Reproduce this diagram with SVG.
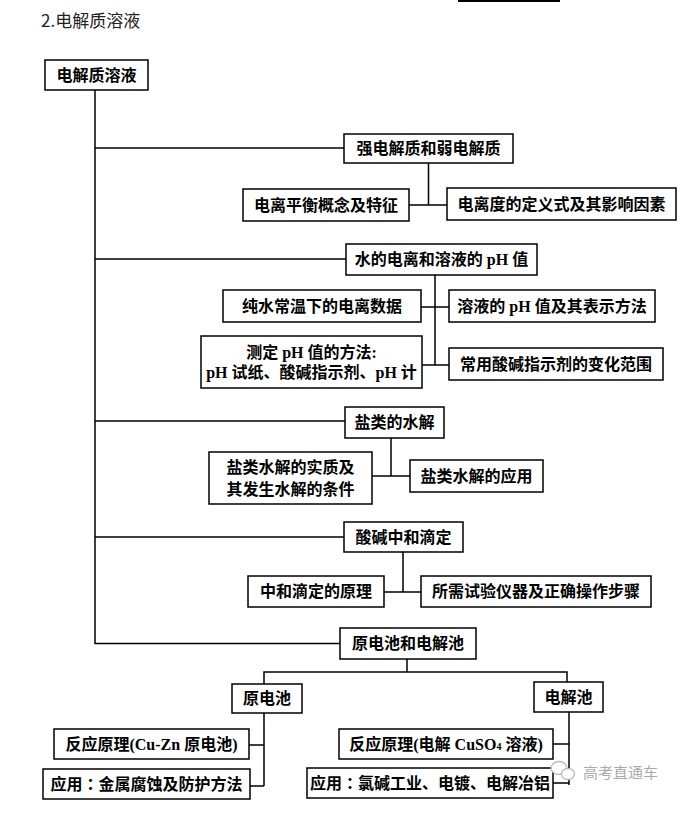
<svg xmlns="http://www.w3.org/2000/svg" width="700" height="816" viewBox="0 0 700 816">
<style>
.bx{fill:#fff;stroke:#000;stroke-width:1.5}
.t{font-family:"Liberation Serif","Noto Sans CJK SC",serif;font-weight:700;font-size:16px;text-anchor:middle;fill:#000}
.c{font-family:"Noto Sans CJK TC",sans-serif}
.ln{fill:none;stroke:#000;stroke-width:1.5}
.title{font-family:"Noto Sans CJK SC","Liberation Sans",sans-serif;font-size:17px;fill:#222}
.wm{font-family:"Noto Sans CJK SC",sans-serif;font-size:15px;fill:#aaa}
</style>
<rect width="700" height="816" fill="#fff"/>
<line x1="458" y1="1" x2="560" y2="1" stroke="#000" stroke-width="2"/>
<text class="title" x="41" y="27">2.电解质溶液</text>

<g id="connectors" class="ln">
<path d="M95,90 V643.5 H340"/>
<path d="M95,148 H344 M428.5,163 V205 M409,205 H447"/>
<path d="M95,259 H346 M435,275 V365 M421,307 H449 M422,365 H449"/>
<path d="M95,421 H345 M391,438 V476 M372,476 H410"/>
<path d="M95,537 H344 M403,552 V592 M384,592 H421"/>
<path d="M407,659 V672 M264,684 V672 H567 V682 M264,713 V786 M249,745 H264 M250,786 H264 M569,712 V785 M553,744 H569 M553,783 H569"/>
</g>

<g id="root"><rect class="bx" x="45" y="60" width="103" height="30"/><text class="t" x="96.5" y="80.5">电解质溶液</text></g>

<g id="n1"><rect class="bx" x="344" y="134" width="169" height="29"/><text class="t" x="428.5" y="154">强电解质和弱电解质</text></g>
<g id="n1a"><rect class="bx" x="243" y="189" width="166" height="32"/><text class="t" x="326" y="210.5">电离平衡概念及特征</text></g>
<g id="n1b"><rect class="bx" x="447" y="188" width="229" height="32"/><text class="t" x="561.5" y="209.5">电离度的定义式及其影响因素</text></g>

<g id="n2"><rect class="bx" x="346" y="244" width="191" height="31"/><text class="t" x="441.5" y="265">水的电离和溶液的 pH 值</text></g>
<g id="n2a"><rect class="bx" x="223" y="290" width="198" height="32"/><text class="t" x="322" y="311.5">纯水常温下的电离数据</text></g>
<g id="n2b"><rect class="bx" x="449" y="290" width="206" height="32"/><text class="t" x="552" y="311.5">溶液的 pH 值及其表示方法</text></g>
<g id="n2c"><rect class="bx" x="201" y="336" width="221" height="52"/><text class="t" x="311.5" y="357.5">测定 pH 值的方法:</text><text class="t" x="311.5" y="377.5">pH 试纸、酸碱指示剂、pH 计</text></g>
<g id="n2d"><rect class="bx" x="449" y="348" width="214" height="32"/><text class="t" x="556" y="369.5">常用酸碱指示剂的变化范围</text></g>

<g id="n3"><rect class="bx" x="345" y="407" width="99" height="31"/><text class="t" x="394.5" y="428">盐类的水解</text></g>
<g id="n3a"><rect class="bx" x="209" y="452" width="163" height="52"/><text class="t" x="290.5" y="473">盐类水解的实质及</text><text class="t" x="290.5" y="494.5">其发生水解的条件</text></g>
<g id="n3b"><rect class="bx" x="410" y="460" width="133" height="32"/><text class="t" x="476.5" y="481.5">盐类水解的应用</text></g>

<g id="n4"><rect class="bx" x="344" y="522" width="119" height="30"/><text class="t" x="403.5" y="542.5">酸碱中和滴定</text></g>
<g id="n4a"><rect class="bx" x="248" y="576" width="136" height="31"/><text class="t" x="316" y="597">中和滴定的原理</text></g>
<g id="n4b"><rect class="bx" x="421" y="576" width="230" height="31"/><text class="t" x="536" y="597">所需试验仪器及正确操作步骤</text></g>

<g id="n5"><rect class="bx" x="340" y="628" width="136" height="31"/><text class="t" x="408" y="649">原电池和电解池</text></g>
<g id="n5L"><rect class="bx" x="232" y="684" width="70" height="29"/><text class="t" x="267" y="704">原电池</text></g>
<g id="n5R"><rect class="bx" x="534" y="682" width="69" height="30"/><text class="t" x="568.5" y="702.5">电解池</text></g>
<g id="n5L1"><rect class="bx" x="54" y="729" width="195" height="30"/><text class="t" x="151.5" y="749.5">反应原理(Cu-Zn 原电池)</text></g>
<g id="n5L2"><rect class="bx" x="43" y="769" width="207" height="30"/><text class="t" x="146.5" y="789.5">应用<tspan class="c">：</tspan>金属腐蚀及防护方法</text></g>
<g id="n5R1"><rect class="bx" x="339" y="729" width="214" height="30"/><text class="t" x="446" y="749.5">反应原理(电解 CuSO<tspan font-size="10">4</tspan> 溶液)</text></g>
<g id="n5R2"><rect class="bx" x="307" y="768" width="246" height="30"/><text class="t" x="430" y="788.5">应用<tspan class="c">：</tspan>氯碱工业、电镀、电解冶铝</text></g>

<g id="watermark">
<ellipse cx="559" cy="768" rx="8" ry="6.5" fill="#fff" stroke="#bbb" stroke-width="1.3"/>
<ellipse cx="568" cy="774" rx="6.5" ry="5.5" fill="#fff" stroke="#bbb" stroke-width="1.3"/>
<text class="wm" x="583" y="778">高考直通车</text>
</g>
</svg>
